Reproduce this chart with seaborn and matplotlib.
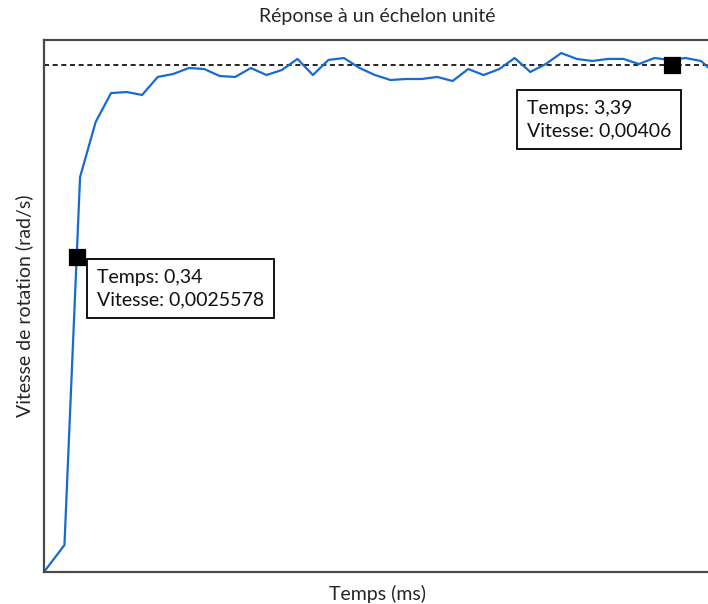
import numpy as np
import pandas as pd
import matplotlib
matplotlib.use("Agg")
import matplotlib.pyplot as plt
import seaborn as sns

# ---- data ----
temps = [0.172, 0.277, 0.357, 0.437, 0.516, 0.596, 0.675, 0.755, 0.834, 0.914,
         0.993, 1.073, 1.152, 1.232, 1.312, 1.391, 1.471, 1.550, 1.630, 1.709,
         1.789, 1.868, 1.948, 2.027, 2.107, 2.187, 2.266, 2.346, 2.425, 2.505,
         2.584, 2.664, 2.743, 2.823, 2.902, 2.982, 3.062, 3.141, 3.221, 3.300,
         3.380, 3.459, 3.539, 3.618]
vitesse = [0.000091, 0.000302, 0.003181, 0.003612, 0.003838, 0.003846, 0.003823,
           0.003964, 0.003987, 0.004034, 0.004026, 0.003971, 0.003964, 0.004034,
           0.003979, 0.004018, 0.004105, 0.003979, 0.004097, 0.004112, 0.004034,
           0.003979, 0.003940, 0.003948, 0.003948, 0.003964, 0.003932, 0.004026,
           0.003979, 0.004026, 0.004112, 0.004003, 0.004065, 0.004151, 0.004105,
           0.004089, 0.004105, 0.004105, 0.004065, 0.004112, 0.004097, 0.004112,
           0.004089, 0.003979]
regime = 0.00406
curseur_t = [0.34, 3.39]
curseur_v = [0.0025578, 0.00406]
curseur_txt = ["Temps: 0,34\nVitesse: 0,0025578", "Temps: 3,39\nVitesse: 0,00406"]

titre = "Réponse à un échelon unité"
xlabel = "Temps (ms)"
ylabel = "Vitesse de rotation (rad/s)"

sns.set_theme(style="white")
plt.rcParams['font.family'] = ['Lato', 'DejaVu Sans']

W, H = 708, 604
fig = plt.figure(figsize=(W / 100, H / 100), dpi=100)
ax = fig.add_axes([44 / W, (H - 572) / H, (711 - 44) / W, (572 - 40) / H])

df = pd.DataFrame({"t": temps, "v": vitesse})
sns.lineplot(data=df, x="t", y="v", ax=ax, color="#176bd0", linewidth=1.6,
             sort=False, clip_on=True)
ax.axhline(regime, color="black", linewidth=1.2, linestyle=(0, (3, 2.2)), zorder=1)

cdf = pd.DataFrame({"t": curseur_t, "v": curseur_v})
sns.scatterplot(data=cdf, x="t", y="v", ax=ax, marker="s", s=125, color="black",
                edgecolor="black", zorder=5, clip_on=False)

fs_box = 14
ax.annotate(curseur_txt[0], xy=(curseur_t[0], curseur_v[0]), xytext=(20, -12),
            textcoords="offset pixels", ha="left", va="top", fontsize=fs_box,
            linespacing=1.38, color="#111111",
            bbox=dict(boxstyle="square,pad=0.5", fc="white", ec="black", lw=1.3))
ax.annotate(curseur_txt[1], xy=(curseur_t[1], curseur_v[1]), xytext=(-1, -35),
            textcoords="offset pixels", ha="right", va="top", fontsize=fs_box,
            linespacing=1.38, multialignment="left", color="#111111",
            bbox=dict(boxstyle="square,pad=0.5", fc="white", ec="black", lw=1.3))

ax.set_xlim(0.1722, 3.590)
ax.set_ylim(0.000091, 0.004253)
ax.set_xticks([])
ax.set_yticks([])
ax.set_xlabel(xlabel, fontsize=14, labelpad=9)
ax.set_ylabel(ylabel, fontsize=14, labelpad=8)
ax.set_title(titre, fontsize=14, pad=13)
for s in ax.spines.values():
    s.set_color("#4a4a4a")
    s.set_linewidth(1.6)

fig.savefig("out.png", dpi=100)
